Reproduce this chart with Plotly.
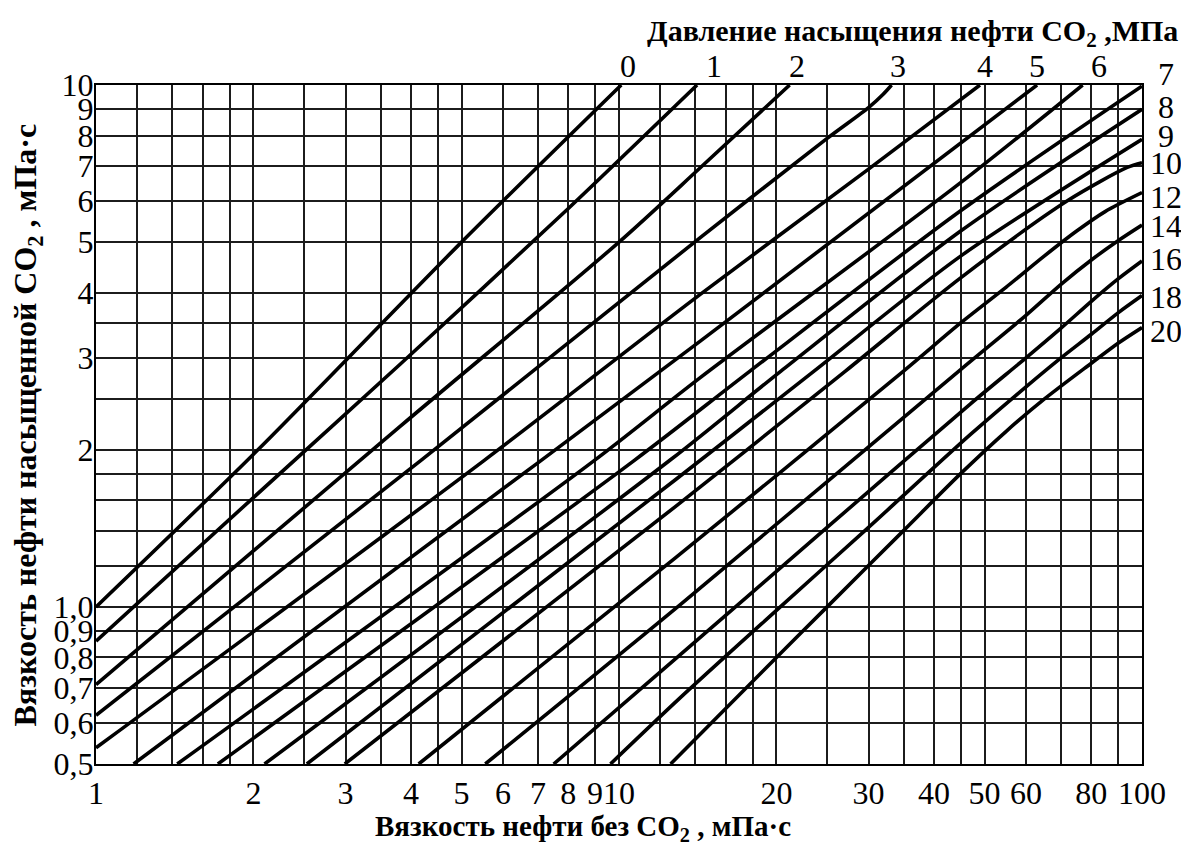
import math
import plotly.graph_objects as go

# ---------------- data ----------------
pressure_labels = ["0", "1", "2", "3", "4", "5", "6", "7", "8", "9", "10", "12", "14", "16", "18", "20"]

# x = viscosity of oil without CO2 (mPa·s), y = viscosity of CO2-saturated oil (mPa·s)
p0_x = [1, 2.04, 5, 10.1]
p0_y = [1.0, 2.0, 5.0, 10]
p1_x = [1, 2, 3.82, 8, 14.1]
p1_y = [0.86, 1.62, 2.92, 5.8, 10]
p2_x = [1, 3.82, 10, 14.3, 21.2]
p2_y = [0.71, 2.22, 5.0, 6.94, 10]
p3_x = [1, 4.17, 14.3, 25, 30, 32, 33.2]
p3_y = [0.62, 1.905, 5.1, 7.9, 9.05, 9.6, 10]
p4_x = [1, 5.51, 14.3, 30, 49]
p4_y = [0.537, 1.905, 3.97, 6.9, 10]
p5_x = [1.18, 7.08, 14.3, 63]
p5_y = [0.5, 1.905, 3.23, 10]
p6_x = [1.43, 8.95, 14.3, 45, 77]
p6_y = [0.5, 1.905, 2.75, 6.5, 10]
p7_x = [1.71, 10.67, 17.8, 45, 100]
p7_y = [0.5, 1.905, 2.83, 5.74, 9.95]
p8_x = [2.1, 12.6, 20.4, 45, 100]
p8_y = [0.5, 1.92, 2.83, 5.25, 8.98]
p9_x = [2.53, 12.8, 23.6, 45, 100]
p9_y = [0.5, 1.75, 2.83, 4.7, 7.87]
p10_x = [2.99, 12.8, 27.1, 45, 72, 93.7, 100]
p10_y = [0.5, 1.555, 2.83, 4.27, 6.0, 6.95, 7.1]
p12_x = [4.14, 12.8, 35, 45, 55, 65, 75, 85, 100]
p12_y = [0.5, 1.24, 2.83, 3.5, 4.1, 4.7, 5.25, 5.72, 6.22]
p14_x = [5.55, 13.1, 45, 60, 70, 80, 90, 100]
p14_y = [0.5, 1.01, 2.85, 3.62, 4.15, 4.62, 5.03, 5.39]
p16_x = [7.5, 13.1, 25, 47, 60, 70, 80, 90, 100]
p16_y = [0.5, 0.81, 1.42, 2.45, 3.0, 3.42, 3.85, 4.25, 4.6]
p18_x = [9.63, 13.1, 20, 30, 47, 60, 70, 80, 90, 100]
p18_y = [0.5, 0.67, 0.985, 1.42, 2.14, 2.64, 3.0, 3.33, 3.66, 3.95]
p20_x = [12.55, 20, 25, 35, 45, 55, 65, 80, 90, 100]
p20_y = [0.5, 0.8, 1.0, 1.4, 1.8, 2.17, 2.5, 2.93, 3.2, 3.43]

curves_x = [p0_x, p1_x, p2_x, p3_x, p4_x, p5_x, p6_x, p7_x, p8_x, p9_x,
            p10_x, p12_x, p14_x, p16_x, p18_x, p20_x]
curves_y = [p0_y, p1_y, p2_y, p3_y, p4_y, p5_y, p6_y, p7_y, p8_y, p9_y,
            p10_y, p12_y, p14_y, p16_y, p18_y, p20_y]

# tick labels
x_tick_vals = [1, 2, 3, 4, 5, 6, 7, 8, 9, 10, 20, 30, 40, 50, 60, 80, 100]
x_tick_text = ["1", "2", "3", "4", "5", "6", "7", "8", "9", "10", "20", "30", "40", "50", "60", "80", "100"]
y_tick_vals = [0.5, 0.6, 0.7, 0.8, 0.9, 1.0, 2, 3, 4, 5, 6, 7, 8, 9, 10]
y_tick_text = ["0,5", "0,6", "0,7", "0,8", "0,9", "1,0", "2", "3", "4", "5", "6", "7", "8", "9", "10"]

# grid lines of the nomogram
x_grid_vals = [1, 1.2, 1.4, 1.6, 1.8, 2, 2.5, 3, 3.5, 4, 4.5, 5, 6, 7, 8, 9, 10,
               12, 14, 16, 18, 20, 25, 30, 35, 40, 45, 50, 60, 70, 80, 90, 100]
y_grid_vals = [0.5, 0.6, 0.7, 0.8, 0.9, 1.0, 1.2, 1.4, 1.6, 1.8, 2, 2.5, 3, 3.5,
               4, 5, 6, 7, 8, 9, 10]

# curve labels: first 7 along the top edge, rest along the right edge
top_label_x = [10.4, 15.2, 21.9, 34.1, 50.2, 63.1, 82.6]
right_label_y = [10.0, 9.08, 7.98, 7.09, 6.1, 5.37, 4.64, 3.93, 3.38]
right_label_shift = [11, 0, 0, 0, 0, 0, 0, 0, 0]

# ---------------- figure ----------------
SERIF = "Liberation Serif, Times New Roman, serif"
GRID = "#1c1c1c"
TICK_SIZE = 32
TITLE_SIZE = 30

fig = go.Figure()
for cx, cy, name in zip(curves_x, curves_y, pressure_labels):
    fig.add_trace(go.Scatter(
        x=cx, y=cy, mode="lines", name=name + " МПа",
        line=dict(color="black", width=3.6, shape="spline", smoothing=0.8),
        hoverinfo="skip", showlegend=False))

axis_common = dict(
    type="log", showline=True, linecolor="black", linewidth=2, mirror=True,
    ticks="", ticklen=0, showgrid=True, gridcolor=GRID, gridwidth=1.6, zeroline=False,
    tickangle=0, automargin=False,
    tickfont=dict(family=SERIF, size=TICK_SIZE, color="black"),
)

fig.update_xaxes(
    range=[0, 2], tickmode="array", tickvals=x_tick_vals, ticktext=x_tick_text,
    minor=dict(tickmode="array", tickvals=x_grid_vals, showgrid=True,
               gridcolor=GRID, gridwidth=1.6),
    ticklabelstandoff=0, **axis_common)
fig.update_yaxes(
    range=[math.log10(0.5), 1], tickmode="array", tickvals=y_tick_vals, ticktext=y_tick_text,
    minor=dict(tickmode="array", tickvals=y_grid_vals, showgrid=True,
               gridcolor=GRID, gridwidth=1.6),
    ticklabelstandoff=-6, **axis_common)

annotations = []
for lx, txt in zip(top_label_x, pressure_labels[:7]):
    annotations.append(dict(x=math.log10(lx), y=1, xref="x", yref="y", text=txt,
                            showarrow=False, yshift=19, xanchor="center", yanchor="middle",
                            font=dict(family=SERIF, size=TICK_SIZE, color="black")))
for ly, sh, txt in zip(right_label_y, right_label_shift, pressure_labels[7:]):
    annotations.append(dict(x=2, y=math.log10(ly), xref="x", yref="y", text=txt,
                            showarrow=False, xshift=24, yshift=sh,
                            xanchor="center", yanchor="middle",
                            font=dict(family=SERIF, size=TICK_SIZE, color="black")))

annotations.append(dict(
    x=1.036, y=1.077, xref="paper", yref="paper", xanchor="right", yanchor="middle",
    text="<b>Давление насыщения нефти CO<sub>2</sub> ,МПа</b>", showarrow=False,
    font=dict(family=SERIF, size=TITLE_SIZE, color="black")))
annotations.append(dict(
    x=0.4656, y=-0.094, xref="paper", yref="paper", xanchor="center", yanchor="middle",
    text="<b>Вязкость нефти без CO<sub>2</sub> , мПа·с</b>", showarrow=False,
    font=dict(family=SERIF, size=29, color="black")))
annotations.append(dict(
    x=-0.065, y=0.4985, xref="paper", yref="paper", xanchor="center", yanchor="middle",
    textangle=-90,
    text="<b>Вязкость нефти насыщенной CO<sub>2</sub> , мПа·с</b>", showarrow=False,
    font=dict(family=SERIF, size=32, color="black")))

# the page body adds an 8 px margin, so the plot area is offset to land where the reference has it
fig.update_layout(
    width=1181, height=839, autosize=False,
    margin=dict(l=88, r=47, t=77, b=83),
    paper_bgcolor="white", plot_bgcolor="white",
    showlegend=False, annotations=annotations,
)

fig.write_html("out.html")
